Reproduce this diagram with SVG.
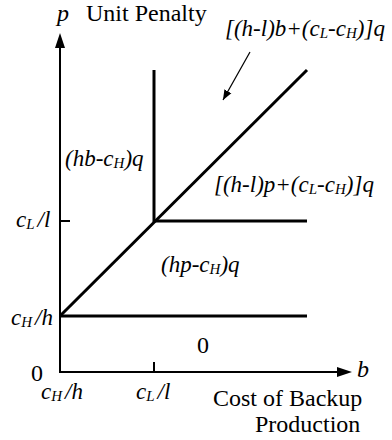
<svg xmlns="http://www.w3.org/2000/svg" width="392" height="440" viewBox="0 0 392 440">
<style>
text{font-family:"Liberation Serif","Times New Roman",serif;font-size:23px;fill:#000}
.r{font-size:24px}
.i{font-style:italic}
.s{font-size:15px}
.ax{stroke:#000;stroke-width:2;fill:none}
.th{stroke:#000;stroke-width:3;fill:none}
</style>
<defs>
<marker id="ah" viewBox="0 0 10 10" refX="10" refY="5" markerWidth="10" markerHeight="10" markerUnits="userSpaceOnUse" orient="auto">
<path d="M0,1 L10,5 L0,9 z" fill="#000"/>
</marker>
</defs>
<rect width="392" height="440" fill="#fff"/>
<g id="connectors">
<line class="ax" x1="60" y1="373" x2="60" y2="47"/>
<polygon points="60,33 55,48 65,48" fill="#000"/>
<line class="ax" x1="59" y1="372" x2="337" y2="372"/>
<polygon points="352,372 337,367 337,377" fill="#000"/>
<line class="ax" x1="60" y1="221" x2="70" y2="221"/>
<line class="ax" x1="154" y1="372" x2="154" y2="362"/>
<line class="th" x1="60" y1="316" x2="307" y2="70"/>
<line class="th" x1="60" y1="316" x2="307" y2="316"/>
<line class="th" x1="154" y1="70" x2="154" y2="222"/>
<line class="th" x1="154" y1="221" x2="307" y2="221"/>
<line stroke="#000" stroke-width="1.2" x1="250" y1="52" x2="223" y2="100" marker-end="url(#ah)"/>
</g>
<g id="axis-labels">
<text class="i r" x="57" y="21">p</text>
<text class="r" x="86" y="21">Unit Penalty</text>
<text class="i r" x="357" y="377">b</text>
<text class="r" x="213" y="406">Cost of Backup</text>
<text class="r" x="255" y="432">Production</text>
<text class="r" x="31" y="381">0</text>
<text class="i" x="16" y="227">c<tspan class="s" dy="2">L</tspan><tspan dy="-2" dx="3">/l</tspan></text>
<text class="i" x="11" y="325">c<tspan class="s" dy="2">H</tspan><tspan dy="-2" dx="3">/h</tspan></text>
<text class="i" x="41" y="399">c<tspan class="s" dy="2">H</tspan><tspan dy="-2" dx="3">/h</tspan></text>
<text class="i" x="136" y="399">c<tspan class="s" dy="2">L</tspan><tspan dy="-2" dx="3">/l</tspan></text>
</g>
<g id="region-labels">
<text class="i" x="225" y="36">[(h-l)b+(c<tspan class="s" dy="2">L</tspan><tspan dy="-2">-c</tspan><tspan class="s" dy="2">H</tspan><tspan dy="-2">)]q</tspan></text>
<text class="i" x="65" y="166">(hb-c<tspan class="s" dy="2">H</tspan><tspan dy="-2">)q</tspan></text>
<text class="i" x="214" y="192">[(h-l)p+(c<tspan class="s" dy="2">L</tspan><tspan dy="-2">-c</tspan><tspan class="s" dy="2">H</tspan><tspan dy="-2">)]q</tspan></text>
<text class="i" x="161" y="272">(hp-c<tspan class="s" dy="2">H</tspan><tspan dy="-2">)q</tspan></text>
<text class="r" x="197" y="353">0</text>
</g>
</svg>
